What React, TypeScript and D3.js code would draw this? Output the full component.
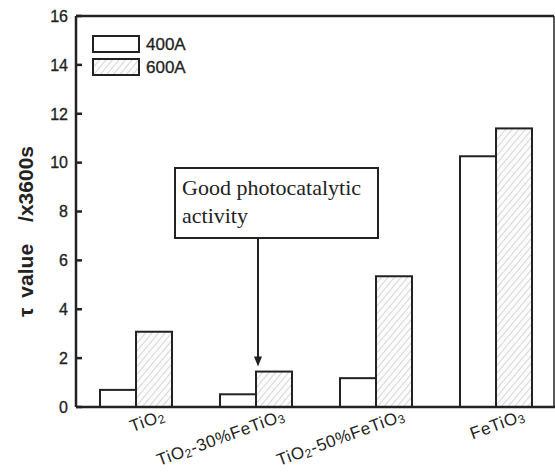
import React from "react";
import * as d3 from "d3";

const categories = ["TiO2", "TiO2-30%FeTiO3", "TiO2-50%FeTiO3", "FeTiO3"];
const series = ["400A", "600A"];
const values400 = [0.7, 0.52, 1.18, 10.26];
const values600 = [3.08, 1.45, 5.35, 11.4];
const yTicks = [0, 2, 4, 6, 8, 10, 12, 14, 16];

// label parts: [text, isSubscript]
const labelParts: [string, boolean][][] = [
  [["TiO", false], ["2", true]],
  [["TiO", false], ["2", true], ["-30%FeTiO", false], ["3", true]],
  [["TiO", false], ["2", true], ["-50%FeTiO", false], ["3", true]],
  [["FeTiO", false], ["3", true]],
];

const W = 555, H = 475;
const plotL = 76, plotR = 554, plotT = 16, plotB = 407;
const labelAngle = -20;

export default function App() {
  const y = d3.scaleLinear().domain([0, 16]).range([plotB, plotT]);
  const x = d3.scaleBand<string>().domain(categories).range([plotL, plotL + 480]).paddingInner(0.4).paddingOuter(0.2);
  const x1 = d3.scaleBand<string>().domain(series).range([0, x.bandwidth()]).padding(0);
  const data = [values400, values600];
  const stroke = "#222";

  const annCat = categories[1];
  const arrowX = (x(annCat) ?? 0) + x1("600A")! + 2;
  const arrowTip = y(values600[1]) - 5;

  return (
    <svg width={W} height={H} style={{ position: "absolute", left: 0, top: 0, background: "#fff" }}>
      <defs>
        <pattern id="hatch" patternUnits="userSpaceOnUse" width="5" height="5" patternTransform="rotate(40)">
          <rect width="5" height="5" fill="#fcfcfc" />
          <line x1="0" y1="0" x2="0" y2="5" stroke="#a8a8a8" strokeWidth="0.9" />
        </pattern>
      </defs>

      {/* bars */}
      {categories.map((c, ci) =>
        series.map((s, si) => {
          const v = data[si][ci];
          return (
            <rect
              key={c + s}
              x={(x(c) ?? 0) + x1(s)!}
              y={y(v)}
              width={x1.bandwidth()}
              height={plotB - y(v)}
              fill={si === 0 ? "#fff" : "url(#hatch)"}
              stroke={stroke}
              strokeWidth={2}
            />
          );
        })
      )}

      {/* frame */}
      <line x1={plotR} x2={plotR} y1={plotT} y2={plotB} stroke={stroke} strokeWidth={1.5} />
      <line x1={plotL} x2={plotL} y1={plotT} y2={plotB} stroke={stroke} strokeWidth={2.5} />
      <line x1={plotL} x2={W} y1={plotB} y2={plotB} stroke={stroke} strokeWidth={2.5} />
      <line x1={plotL} x2={plotR} y1={plotT} y2={plotT} stroke={stroke} strokeWidth={2.5} />

      {/* y ticks */}
      {yTicks.map((t) => (
        <g key={t}>
          <line x1={plotL} x2={plotL + 6} y1={y(t)} y2={y(t)} stroke={stroke} strokeWidth={2.5} />
          <text x={plotL - 8} y={y(t)} dy="0.36em" textAnchor="end" fontFamily="Liberation Sans, Arial, sans-serif" fontSize={16} fill="#222" stroke="#222" strokeWidth={0.3}>
            {t}
          </text>
        </g>
      ))}

      {/* y title */}
      <g transform="translate(33, 317) rotate(-90)">
        <text textAnchor="start" fontFamily="Liberation Sans, Arial, sans-serif" fontWeight="bold" fontSize={21} fill="#222">
          <tspan>τ</tspan>
          <tspan dx={10}>value</tspan>
          <tspan dx={22}>/x3600s</tspan>
        </text>
      </g>

      {/* x labels */}
      {categories.map((c, ci) => {
        const ax = (x(c) ?? 0) + x.bandwidth() / 2 + 30;
        const ay = 420;
        return (
          <g key={c} transform={`translate(${ax}, ${ay}) rotate(${labelAngle})`}>
            <text
              x={0}
              y={0}
              textAnchor="end"
              fontFamily="Liberation Sans, Arial, sans-serif"
              fontSize={17}
              letterSpacing={0.6}
              fill="#222"
            >
              {labelParts[ci].map(([t, sub], i) => (
                <tspan key={i} fontSize={sub ? 12 : 17} dy={sub ? 2 : i > 0 ? -2 : 0}>
                  {t}
                </tspan>
              ))}
            </text>
          </g>
        );
      })}

      {/* legend */}
      {series.map((s, si) => (
        <g key={s} transform={`translate(93, ${36 + si * 23})`}>
          <rect width={46} height={16} fill={si === 0 ? "#fff" : "url(#hatch)"} stroke={stroke} strokeWidth={2} />
          <text x={53} y={8} dy="0.36em" fontFamily="Liberation Sans, Arial, sans-serif" fontSize={17} fill="#222" stroke="#222" strokeWidth={0.3}>
            {s}
          </text>
        </g>
      ))}

      {/* annotation */}
      <rect x={175} y={168} width={203} height={70} fill="#fff" stroke={stroke} strokeWidth={2} />
      <text x={182} y={195} fontFamily="Liberation Serif, Times New Roman, serif" fontSize={22} fill="#222">
        Good photocatalytic
      </text>
      <text x={182} y={223} fontFamily="Liberation Serif, Times New Roman, serif" fontSize={22} fill="#222">
        activity
      </text>
      <line x1={arrowX} x2={arrowX} y1={238} y2={arrowTip - 8} stroke={stroke} strokeWidth={2} />
      <path d={`M${arrowX - 4},${arrowTip - 10} L${arrowX + 4},${arrowTip - 10} L${arrowX},${arrowTip} Z`} fill={stroke} />
    </svg>
  );
}
